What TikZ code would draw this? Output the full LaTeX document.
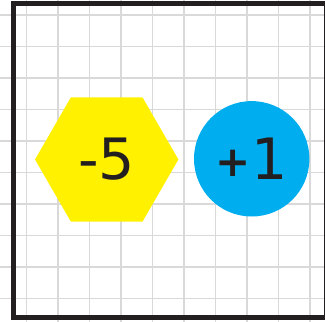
\documentclass[tikz,border=0pt]{standalone}
\usepackage{fontspec}
\setsansfont{DejaVu Sans}
\usetikzlibrary{shapes.geometric}
\definecolor{hexyellow}{HTML}{FFF100}
\definecolor{chipblue}{HTML}{00AEEF}
\definecolor{frameblack}{HTML}{231F20}
\newcommand{\smallplus}{\raisebox{3pt}{\bfseries\fontsize{42}{42}\selectfont+}}
\begin{document}
\begin{tikzpicture}[x=1pt,y=-1pt,
  chip/.style={inner sep=0pt,font=\sffamily\fontsize{57}{57}\selectfont,text=frameblack}]
\useasboundingbox (0,0) rectangle (325,322);
\clip (0,0) rectangle (325,322);
\foreach \k in {0,...,9}{%
  \pgfmathsetmacro{\gx}{26.7+31.5*\k}\pgfmathsetmacro{\gy}{15+31.5*\k}%
  \draw[gray!30,line width=1.4pt] (\gx,0) -- (\gx,322);
  \draw[gray!30,line width=1.4pt] (0,\gy) -- (325,\gy);}
\draw[frameblack,line width=5pt] (13.5,3.5) rectangle (326.5,317.5);
\node[chip,regular polygon,regular polygon sides=6,minimum size=143.4pt,fill=hexyellow] (minus5) at (106.7,159.5) {-5};
\node[chip,circle,minimum size=115.4pt,fill=chipblue] (plus1) at (251.7,158.8) {\smallplus1};
\end{tikzpicture}
\end{document}
